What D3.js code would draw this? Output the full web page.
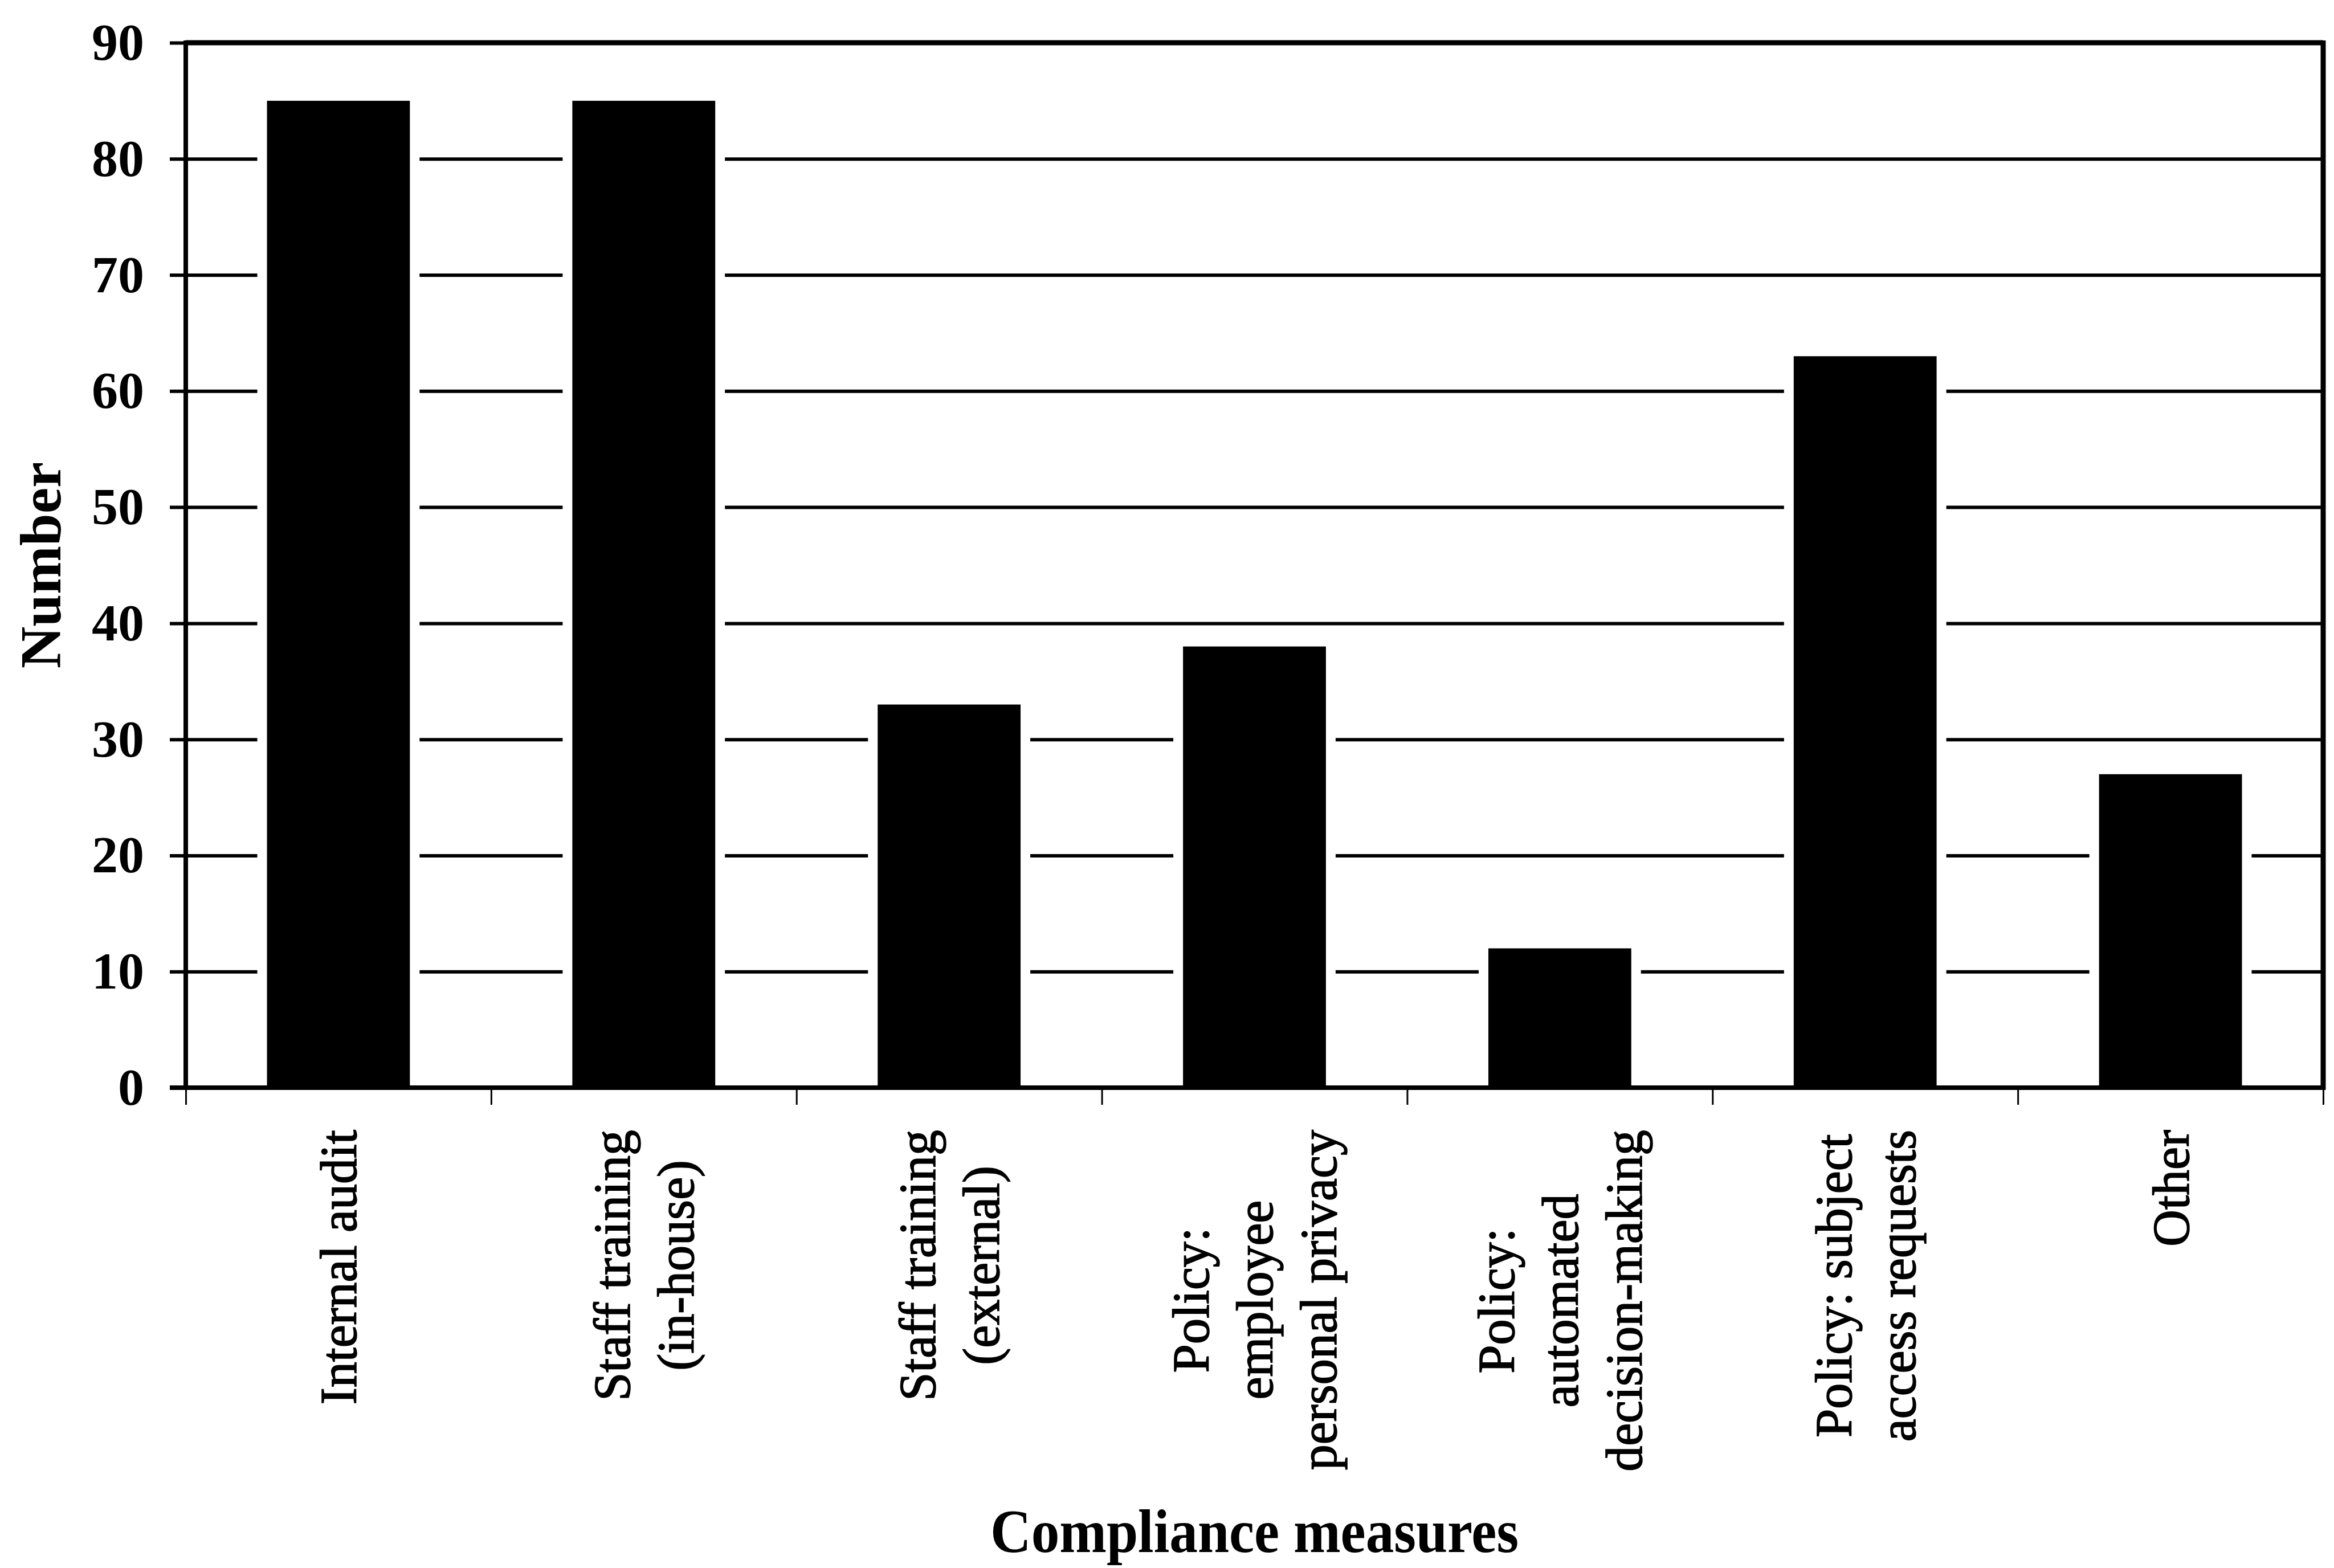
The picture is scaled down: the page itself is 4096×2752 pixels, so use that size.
<!DOCTYPE html>
<html>
<head>
<meta charset="utf-8">
<script src="https://cdn.jsdelivr.net/npm/d3@7"></script>
<style>
  body { margin: 0; background: #fff; }
  text { font-family: "Liberation Serif", "Times New Roman", serif; fill: #000; }
</style>
</head>
<body>
<div id="chart"></div>
<script>
// DATA
const categories = ["Internal audit", "Staff training (in-house)", "Staff training (external)",
  "Policy: employee personal privacy", "Policy: automated decision-making",
  "Policy: subject access requests", "Other"];
const labelLines = [
  ["Internal audit"],
  ["Staff training", "(in-house)"],
  ["Staff training", "(external)"],
  ["Policy:", "employee", "personal privacy"],
  ["Policy:", "automated", "decision-making"],
  ["Policy: subject", "access requests"],
  ["Other"]
];
const counts = [85, 85, 33, 38, 12, 63, 27];
const yTicks = [0, 10, 20, 30, 40, 50, 60, 70, 80, 90];

// MARGIN CONVENTIONS
const margin = { top: 75, right: 19, bottom: 843, left: 326 };
const outerWidth = 4096;
const outerHeight = 2752;
const width = outerWidth - margin.left - margin.right;
const height = outerHeight - margin.top - margin.bottom;

const svg = d3.select("#chart").append("svg")
  .attr("width", outerWidth)
  .attr("height", outerHeight)
  .style("display", "block");

svg.append("rect").attr("width", outerWidth).attr("height", outerHeight).attr("fill", "#fff");

const g = svg.append("g")
  .attr("transform", `translate(${margin.left}, ${margin.top})`);

// scales
const x = d3.scaleBand()
  .domain(categories)
  .range([0, width])
  .paddingInner(0.532)
  .paddingOuter(0.266);

const y = d3.scaleLinear()
  .domain([0, 90])
  .range([height, 0]);

// gridlines (with the short outside tick)
g.append("g")
  .call(d3.axisLeft(y).tickValues(yTicks).tickSize(-width).tickFormat(""))
  .call(s => s.select(".domain").remove())
  .call(s => s.selectAll("line")
    .attr("x1", -28)
    .attr("stroke", "#000")
    .attr("stroke-width", 6));

// bars, with the small white gap where gridlines meet them
const gap = 17;
g.append("g").selectAll("rect")
  .data(counts)
  .join("rect")
  .attr("x", (d, i) => x(categories[i]) - gap)
  .attr("y", d => y(d))
  .attr("width", x.bandwidth() + gap * 2)
  .attr("height", d => height - y(d))
  .attr("fill", "#fff");

g.append("g").selectAll("rect")
  .data(counts)
  .join("rect")
  .attr("x", (d, i) => x(categories[i]))
  .attr("y", d => y(d))
  .attr("width", x.bandwidth())
  .attr("height", d => height - y(d))
  .attr("fill", "#000");

// y tick labels
g.append("g")
  .call(d3.axisLeft(y).tickValues(yTicks).tickSize(0).tickPadding(73))
  .call(s => s.select(".domain").remove())
  .call(s => s.selectAll("text")
    .attr("font-size", 92)
    .attr("font-weight", "bold")
    .style("font-family", '"Liberation Serif", "Times New Roman", serif'));

// ticks between categories
const xEdge = d3.scaleLinear().domain([0, categories.length]).range([0, width]);
g.append("g")
  .attr("transform", `translate(0, ${height})`)
  .call(d3.axisBottom(xEdge).ticks(categories.length).tickSize(30).tickFormat(""))
  .call(s => s.select(".domain").remove())
  .call(s => s.selectAll("line").attr("stroke", "#000").attr("stroke-width", 3));

// frame
g.append("line").attr("x1", 0).attr("x2", width).attr("y1", 0).attr("y2", 0)
  .attr("stroke", "#000").attr("stroke-width", 9);
g.append("line").attr("x1", width).attr("x2", width).attr("y1", -4).attr("y2", height + 4)
  .attr("stroke", "#000").attr("stroke-width", 9);
g.append("line").attr("x1", 0).attr("x2", 0).attr("y1", -4).attr("y2", height + 4)
  .attr("stroke", "#000").attr("stroke-width", 8);
g.append("line").attr("x1", -28).attr("x2", width).attr("y1", height).attr("y2", height)
  .attr("stroke", "#000").attr("stroke-width", 8);

// category labels, rotated, lines centred on the longest one
const lineGap = 112;
const labels = g.append("g").selectAll("g")
  .data(categories)
  .join("g")
  .attr("transform", d => `translate(${x(d) + x.bandwidth() / 2}, ${height + 74}) rotate(-90)`);

labels.each(function (d, i) {
  const lines = labelLines[i];
  const texts = d3.select(this).selectAll("text")
    .data(lines)
    .join("text")
    .attr("text-anchor", "middle")
    .attr("font-size", 90)
    .attr("stroke", "#000")
    .attr("stroke-width", 1.6)
    .attr("y", (t, j) => (j - (lines.length - 1) / 2) * lineGap)
    .attr("dy", "0.35em")
    .text(t => t);
  const maxLen = d3.max(texts.nodes(), n => n.getComputedTextLength());
  texts.attr("x", -maxLen / 2);
});

// axis titles
g.append("text")
  .attr("text-anchor", "middle")
  .attr("transform", "rotate(-90)")
  .attr("x", -height / 2)
  .attr("y", -margin.left + 70)
  .attr("dy", "0.35em")
  .attr("font-size", 102)
  .attr("font-weight", "bold")
  .text("Number");

g.append("text")
  .attr("text-anchor", "middle")
  .attr("x", width / 2)
  .attr("y", height + 815)
  .attr("font-size", 108)
  .attr("font-weight", "bold")
  .attr("textLength", 927)
  .attr("lengthAdjust", "spacingAndGlyphs")
  .text("Compliance measures");
</script>
</body>
</html>
